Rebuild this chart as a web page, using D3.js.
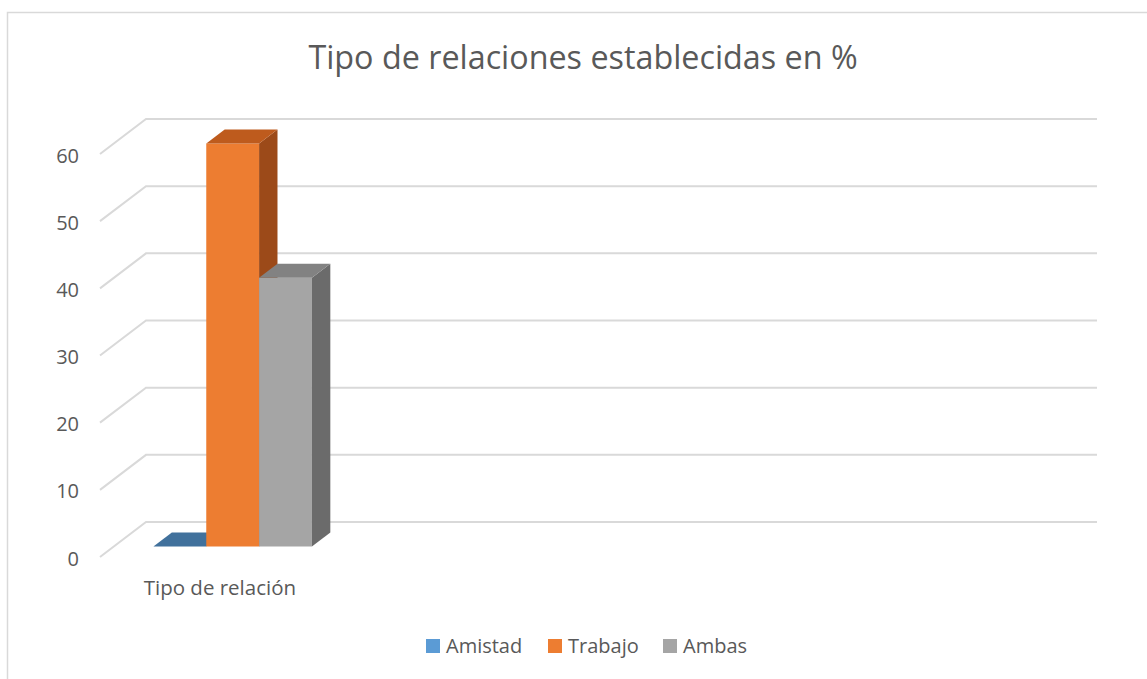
<!DOCTYPE html>
<html>
<head>
<meta charset="utf-8">
<script src="https://cdn.jsdelivr.net/npm/d3@7"></script>
<style>
  html, body { margin: 0; padding: 0; background: #ffffff; }
  svg { display: block; }
</style>
</head>
<body>
<div id="chart"></div>
<script>
// ---- data ----
const title = "Tipo de relaciones establecidas en %";
const categories = ["Tipo de relación", "", "", ""];
const seriesNames = ["Amistad", "Trabajo", "Ambas"];
const amistad = [0];
const trabajo = [60];
const ambas = [40];
const yTicks = [0, 10, 20, 30, 40, 50, 60];

const seriesValues = [amistad, trabajo, ambas];
const colors = {
  front: ["#5B9BD5", "#ED7D31", "#A5A5A5"],
  top:   ["#41719C", "#BE5B1D", "#828282"],
  side:  ["#3A6790", "#9C4A19", "#6B6B6B"],
  legend:["#5B9BD5", "#ED7D31", "#A5A5A5"]
};

const W = 1147, H = 679;
const FONT = "'Open Sans', 'Noto Sans', sans-serif";
const TEXT = "#595959";
const GRID = "#d9d9d9";

const svg = d3.select("#chart").append("svg")
  .attr("width", W).attr("height", H);

// chart border
svg.append("rect")
  .attr("x", 7.5).attr("y", 12.5)
  .attr("width", W + 10).attr("height", H + 10)
  .attr("fill", "#fff").attr("stroke", GRID).attr("stroke-width", 1.5);

// title
svg.append("text")
  .attr("x", 583).attr("y", 69)
  .attr("text-anchor", "middle")
  .attr("font-family", FONT).attr("font-size", 32.3)
  .attr("fill", TEXT)
  .text(title);

// 3D geometry: back wall + depth vector
const backLeft = 146, backRight = 1097;
const depth = { dx: 46, dy: 35 };
const y = d3.scaleLinear().domain([0, 60]).range([522, 119]);
const x0 = d3.scaleBand().domain(d3.range(categories.length))
  .range([backLeft, backRight]).paddingInner(1/3).paddingOuter(1/6);
const x1 = d3.scaleBand().domain(d3.range(seriesNames.length))
  .range([0, x0.bandwidth()]);
const zFront = 0.3, zBack = 0.7;

// z: 0 front, 1 back wall
function P(xb, v, z) {
  return [xb - depth.dx * (1 - z), y(v) + depth.dy * (1 - z)];
}

// gridlines on back wall + side wall / floor diagonals
const grid = svg.append("g");
yTicks.forEach(t => {
  const a = P(backLeft, t, 1), b = P(backRight, t, 1), c = P(backLeft, t, 0);
  grid.append("path")
    .attr("d", `M${c[0]},${c[1]}L${a[0]},${a[1]}L${b[0]},${b[1]}`)
    .attr("fill", "none").attr("stroke", GRID).attr("stroke-width", 2);
});

// y tick labels
svg.append("g").selectAll("text").data(yTicks).join("text")
  .attr("x", 79)
  .attr("y", d => P(backLeft, d, 0)[1] + 1)
  .attr("text-anchor", "end")
  .attr("dominant-baseline", "central")
  .attr("font-family", FONT).attr("font-size", 20)
  .attr("fill", TEXT)
  .text(d => d);

// bars
const bars = svg.append("g");
categories.forEach((cat, ci) => {
  seriesValues.forEach((vals, si) => {
    const v = vals[ci];
    if (v === undefined || v === null) return;
    const xa = x0(ci) + x1(si), xbR = xa + x1.bandwidth();
    const poly = pts => "M" + pts.map(p => p.join(",")).join("L") + "Z";
    if (v > 0) {
      // front face
      bars.append("path")
        .attr("d", poly([P(xa, 0, zFront), P(xbR, 0, zFront), P(xbR, v, zFront), P(xa, v, zFront)]))
        .attr("fill", colors.front[si]);
      // right side face
      bars.append("path")
        .attr("d", poly([P(xbR, 0, zFront), P(xbR, 0, zBack), P(xbR, v, zBack), P(xbR, v, zFront)]))
        .attr("fill", colors.side[si]);
    }
    // top face
    bars.append("path")
      .attr("d", poly([P(xa, v, zFront), P(xbR, v, zFront), P(xbR, v, zBack), P(xa, v, zBack)]))
      .attr("fill", colors.top[si]);
  });
});

// category labels (front edge)
svg.append("g").selectAll("text").data(categories).join("text")
  .attr("x", (d, i) => P(x0(i) + x0.bandwidth() / 2, 0, 0)[0] + 1)
  .attr("y", 595)
  .attr("text-anchor", "middle")
  .attr("font-family", FONT).attr("font-size", 20.5)
  .attr("fill", TEXT)
  .text(d => d);

// legend
const legendX = [426, 548, 663];
const lg = svg.append("g");
seriesNames.forEach((name, i) => {
  lg.append("rect")
    .attr("x", legendX[i]).attr("y", 639)
    .attr("width", 14).attr("height", 14)
    .attr("fill", colors.legend[i]);
  lg.append("text")
    .attr("x", legendX[i] + 20).attr("y", 653)
    .attr("font-family", FONT).attr("font-size", 20)
    .attr("fill", TEXT)
    .text(name);
});
</script>
</body>
</html>
